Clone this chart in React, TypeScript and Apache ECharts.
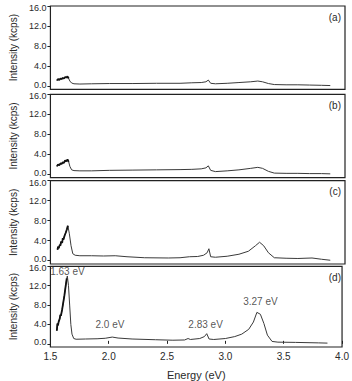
import React, { useEffect, useRef } from "react";
import * as echarts from "echarts";

// Panel (a)
const energyA = [1.555, 1.565, 1.575, 1.585, 1.595, 1.605, 1.615, 1.625, 1.635, 1.645, 1.655, 1.665, 1.68, 1.7, 1.75, 1.85, 2.0, 2.2, 2.4, 2.6, 2.7, 2.78, 2.82, 2.84, 2.86, 2.9, 3.0, 3.1, 3.2, 3.26, 3.3, 3.35, 3.4, 3.5, 3.6, 3.7, 3.8, 3.875];
const intensityA = [1.1, 1.4, 1.2, 1.5, 1.4, 1.6, 1.5, 1.8, 1.7, 1.9, 1.5, 1.0, 0.6, 0.45, 0.4, 0.45, 0.5, 0.5, 0.55, 0.55, 0.65, 0.7, 0.85, 1.2, 0.55, 0.45, 0.55, 0.7, 0.85, 1.0, 0.85, 0.5, 0.3, 0.25, 0.25, 0.2, 0.15, 0.1];

// Panel (b)
const energyB = [1.555, 1.565, 1.575, 1.585, 1.595, 1.605, 1.615, 1.625, 1.635, 1.645, 1.655, 1.665, 1.68, 1.7, 1.75, 1.85, 2.0, 2.2, 2.4, 2.6, 2.7, 2.78, 2.82, 2.84, 2.86, 2.9, 3.0, 3.1, 3.2, 3.26, 3.3, 3.35, 3.4, 3.5, 3.6, 3.7, 3.8, 3.875];
const intensityB = [1.6, 2.0, 1.8, 2.2, 2.1, 2.4, 2.3, 2.8, 2.6, 3.0, 2.5, 1.6, 0.9, 0.75, 0.7, 0.7, 0.8, 0.85, 0.9, 0.95, 1.0, 1.1, 1.3, 1.7, 0.8, 0.55, 0.7, 0.9, 1.2, 1.4, 1.2, 0.6, 0.25, 0.2, 0.2, 0.15, 0.15, 0.1];

// Panel (c)
const energyC = [1.56, 1.565, 1.57, 1.58, 1.585, 1.59, 1.6, 1.605, 1.61, 1.62, 1.63, 1.64, 1.648, 1.66, 1.675, 1.69, 1.71, 1.75, 1.85, 1.95, 2.05, 2.15, 2.3, 2.5, 2.6, 2.68, 2.75, 2.8, 2.83, 2.845, 2.86, 2.9, 3.0, 3.1, 3.18, 3.24, 3.275, 3.31, 3.35, 3.4, 3.5, 3.6, 3.72, 3.8, 3.875];
const intensityC = [2.2, 2.8, 2.5, 3.2, 3.0, 3.8, 3.6, 4.5, 4.2, 5.0, 5.6, 6.3, 7.0, 5.5, 3.0, 1.4, 1.1, 1.0, 1.0, 0.95, 1.0, 0.8, 0.6, 0.55, 0.6, 0.8, 0.85, 1.1, 1.6, 2.4, 0.8, 0.7, 0.9, 1.3, 1.9, 3.0, 3.7, 3.0, 1.6, 0.6, 0.5, 0.45, 0.55, 0.3, 0.1];

// Panel (d)
const energyD = [1.555, 1.56, 1.565, 1.57, 1.58, 1.585, 1.59, 1.6, 1.61, 1.62, 1.63, 1.64, 1.645, 1.655, 1.665, 1.675, 1.685, 1.7, 1.72, 1.8, 1.9, 1.97, 2.03, 2.08, 2.2, 2.4, 2.55, 2.65, 2.68, 2.7, 2.78, 2.82, 2.84, 2.86, 2.9, 3.0, 3.08, 3.14, 3.2, 3.24, 3.27, 3.3, 3.33, 3.36, 3.4, 3.45, 3.6, 3.8, 3.875];
const intensityD = [2.7, 4.2, 3.8, 4.5, 5.2, 6.0, 5.8, 7.0, 8.5, 10.0, 11.8, 13.5, 14.0, 12.0, 8.0, 4.0, 2.0, 1.1, 0.95, 1.0, 1.05, 1.15, 1.4, 1.2, 1.0, 0.85, 0.75, 0.8, 1.1, 0.9, 1.1, 1.5, 2.1, 1.0, 0.9, 1.1, 1.5, 2.0, 3.0, 4.5, 6.5, 6.1, 4.2, 1.8, 0.5, 0.35, 0.3, 0.2, 0.15];

// Number of leading points forming the noisy (thicker) low-energy edge
const noisyCount = [11, 11, 13, 12];

// Peak annotations in panel (d)
const annotationText = ["1.63 eV", "2.0 eV", "2.83 eV", "3.27 eV"];
const annotationE = [1.646, 2.01, 2.83, 3.3];
const annotationI = [15.0, 4.0, 4.0, 8.7];

const panelLabels = ["(a)", "(b)", "(c)", "(d)"];
const yTicks = [0, 4, 8, 12, 16];

const FONT = "Liberation Sans, Arial, sans-serif";
const TEXT = "#2a2a2a";

export default function App() {
  const ref = useRef<HTMLDivElement>(null);
  useEffect(() => {
    document.body.style.margin = "0";
    if (!ref.current) return;
    const chart = echarts.init(ref.current, null, { renderer: "svg" });

    const energies = [energyA, energyB, energyC, energyD];
    const intensities = [intensityA, intensityB, intensityC, intensityD];
    const tops = [6, 94.3, 180.7, 266.3];
    const height = 83.3;

    const grid = tops.map((t) => ({
      left: 45,
      width: 300,
      top: t,
      height,
      show: true,
      borderColor: "#222",
      borderWidth: 1.2,
      backgroundColor: "transparent",
    }));

    const xAxis = tops.map((_, i) => ({
      type: "value",
      gridIndex: i,
      min: 1.5,
      max: 4.0,
      interval: 0.5,
      axisLine: { show: false },
      splitLine: { show: false },
      axisTick: { show: i === 3, inside: true, length: 3, lineStyle: { color: "#222" } },
      axisLabel: {
        show: i === 3,
        margin: 4,
        fontSize: 10,
        fontFamily: FONT,
        color: TEXT,
        formatter: (v: number) => v.toFixed(1),
      },
      name: i === 3 ? "Energy (eV)" : "",
      nameLocation: "middle",
      nameGap: 22,
      nameTextStyle: { fontSize: 11, fontFamily: FONT, color: TEXT },
    }));

    const yAxis = tops.map((_, i) => ({
      type: "value",
      gridIndex: i,
      min: -0.65,
      max: 16,
      axisLine: { show: false },
      splitLine: { show: false },
      axisTick: { show: true, length: 3, customValues: yTicks, lineStyle: { color: "#222" } },
      axisLabel: {
        customValues: yTicks,
        margin: 4,
        fontSize: 9,
        fontFamily: FONT,
        color: TEXT,
        formatter: (v: number) =>
          v === 16 ? `{max|${v.toFixed(1)}}` : v === 0 ? `{min|${v.toFixed(1)}}` : v.toFixed(1),
        rich: {
          max: { fontSize: 9, fontFamily: FONT, color: TEXT, padding: [4, 0, 0, 0] },
          min: { fontSize: 9, fontFamily: FONT, color: TEXT, padding: [0, 0, 3, 0] },
        },
      },
      name: "Intensity (kcps)",
      nameLocation: "middle",
      nameGap: 31,
      nameTextStyle: { fontSize: 10, fontFamily: FONT, color: TEXT },
    }));

    const series: any[] = energies.map((e, i) => ({
      type: "line",
      xAxisIndex: i,
      yAxisIndex: i,
      showSymbol: false,
      symbol: "none",
      data: e.map((x, j) => [x, intensities[i][j]]),
      lineStyle: { color: "#3a3a3a", width: 1 },
    }));

    energies.forEach((e, i) => {
      series.push({
        type: "line",
        xAxisIndex: i,
        yAxisIndex: i,
        showSymbol: false,
        symbol: "none",
        data: e.slice(0, noisyCount[i]).map((x, j) => [x, intensities[i][j]]),
        lineStyle: { color: "#111", width: 1.8 },
      });
    });

    series.push({
      type: "scatter",
      xAxisIndex: 3,
      yAxisIndex: 3,
      symbolSize: 1,
      itemStyle: { color: "rgba(0,0,0,0)" },
      data: annotationE.map((x, j) => ({ value: [x, annotationI[j]], name: annotationText[j] })),
      label: {
        show: true,
        position: "inside",
        formatter: (p: any) => p.name,
        fontSize: 10,
        fontFamily: FONT,
        color: TEXT,
      },
    });

    const graphic = tops.map((t, i) => ({
      type: "text",
      right: 11,
      top: t + 6,
      style: { text: panelLabels[i], fontSize: 10, fontFamily: FONT, fill: TEXT },
    }));

    chart.setOption({
      animation: false,
      grid,
      xAxis,
      yAxis,
      series,
      graphic,
    });
    return () => chart.dispose();
  }, []);
  return <div ref={ref} style={{ width: 352, height: 381 }} />;
}
